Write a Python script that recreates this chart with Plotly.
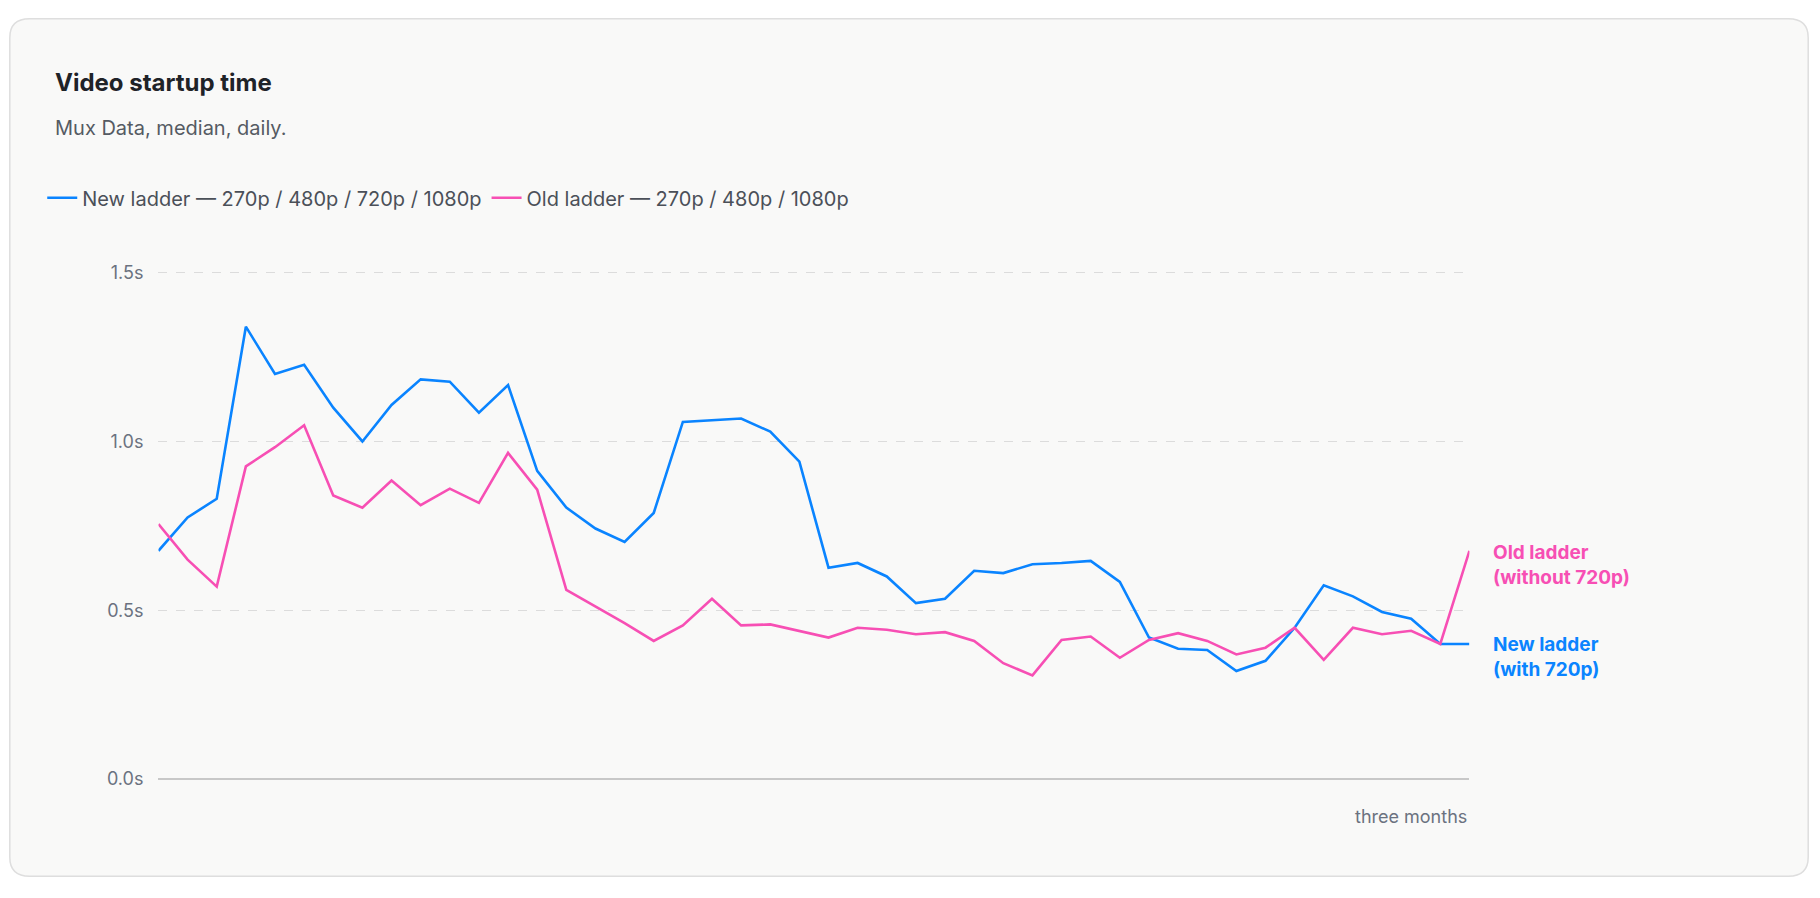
import plotly.graph_objects as go

# daily medians, seconds
new_ladder = [0.676, 0.775, 0.83, 1.34, 1.20, 1.227, 1.10, 1.0, 1.108, 1.184, 1.177, 1.085,
              1.167, 0.913, 0.804, 0.742, 0.702, 0.788, 1.058, 1.062, 1.068, 1.029, 0.94,
              0.626, 0.64, 0.60, 0.521, 0.534, 0.617, 0.61, 0.636, 0.64, 0.646, 0.584,
              0.419, 0.386, 0.382, 0.32, 0.35, 0.448, 0.574, 0.541, 0.495, 0.475, 0.40, 0.40]
old_ladder = [0.755, 0.65, 0.57, 0.926, 0.983, 1.048, 0.84, 0.804, 0.884, 0.811, 0.86, 0.818,
              0.966, 0.857, 0.56, 0.511, 0.462, 0.409, 0.455, 0.534, 0.455, 0.458, 0.439,
              0.419, 0.448, 0.442, 0.429, 0.435, 0.409, 0.343, 0.307, 0.412, 0.422, 0.359,
              0.412, 0.432, 0.409, 0.369, 0.389, 0.448, 0.353, 0.448, 0.429, 0.439, 0.40, 0.676]
days = list(range(len(new_ladder)))
y_ticks = [0, 0.5, 1.0, 1.5]
y_labels = ["0.0s", "0.5s", "1.0s", "1.5s"]

BLUE = "#0a84ff"
PINK = "#f74fb4"
GREY = "#6b7280"
FONT = "Inter, Roboto, sans-serif"

fig = go.Figure()
fig.add_trace(go.Scatter(x=days, y=new_ladder, mode="lines", name="New ladder — 270p / 480p / 720p / 1080p",
                         line=dict(color=BLUE, width=2.6)))
fig.add_trace(go.Scatter(x=days, y=old_ladder, mode="lines", name="Old ladder — 270p / 480p / 1080p",
                         line=dict(color=PINK, width=2.6)))

# rounded card
rx, ry = 0.011, 0.022
x0, x1, y0, y1 = 0.001, 0.999, 0.002, 0.998
card = (f"M {x0+rx},{y0} L {x1-rx},{y0} Q {x1},{y0} {x1},{y0+ry} L {x1},{y1-ry} "
        f"Q {x1},{y1} {x1-rx},{y1} L {x0+rx},{y1} Q {x0},{y1} {x0},{y1-ry} "
        f"L {x0},{y0+ry} Q {x0},{y0} {x0+rx},{y0} Z")
fig.add_shape(type="path", path=card, xref="paper", yref="paper", layer="below",
              fillcolor="#f9f9f8", line=dict(color="#dedede", width=1.5))

fig.add_annotation(text="<b>Video startup time</b>", xref="paper", yref="paper", x=0.025, y=0.924,
                   xanchor="left", yanchor="middle", showarrow=False, font=dict(size=24, color="#1f2328"))
fig.add_annotation(text="Mux Data, median, daily.", xref="paper", yref="paper", x=0.025, y=0.871,
                   xanchor="left", yanchor="middle", showarrow=False, font=dict(size=20, color="#555b63"))
fig.add_annotation(text="three months", xref="x", yref="paper", x=days[-1], y=0.072,
                   xanchor="right", yanchor="middle", showarrow=False, font=dict(size=18, color=GREY))
fig.add_annotation(text="<b>Old ladder<br>(without 720p)</b>", x=days[-1], y=0.633, xshift=22,
                   xanchor="left", yanchor="middle", align="left", showarrow=False,
                   font=dict(size=19, color=PINK))
fig.add_annotation(text="<b>New ladder<br>(with 720p)</b>", x=days[-1], y=0.36, xshift=22,
                   xanchor="left", yanchor="middle", align="left", showarrow=False,
                   font=dict(size=19, color=BLUE))

fig.update_layout(
    width=1802, height=880,
    margin=dict(l=0, r=0, t=0, b=0),
    paper_bgcolor="white", plot_bgcolor="rgba(0,0,0,0)",
    font=dict(family=FONT, color=GREY),
    showlegend=True,
    legend=dict(orientation="h", x=0.019, y=0.79, xanchor="left", yanchor="middle",
                font=dict(size=20, color="#4b5058"), bgcolor="rgba(0,0,0,0)",
                itemwidth=30, traceorder="normal"),
    xaxis=dict(domain=[0.0835, 0.811], range=[0, days[-1]], showgrid=False, zeroline=False,
               showticklabels=False, showline=False),
    yaxis=dict(domain=[0.115, 0.705], range=[0, 1.505], tickvals=y_ticks, ticktext=y_labels,
               showgrid=True, gridcolor="#dcdcdc", griddash="dash", gridwidth=1,
               zeroline=True, zerolinecolor="#c8c8c8", zerolinewidth=1.5,
               tickfont=dict(size=18, color=GREY), ticks="", ticklabelstandoff=14),
)

fig.write_html("out.html")
